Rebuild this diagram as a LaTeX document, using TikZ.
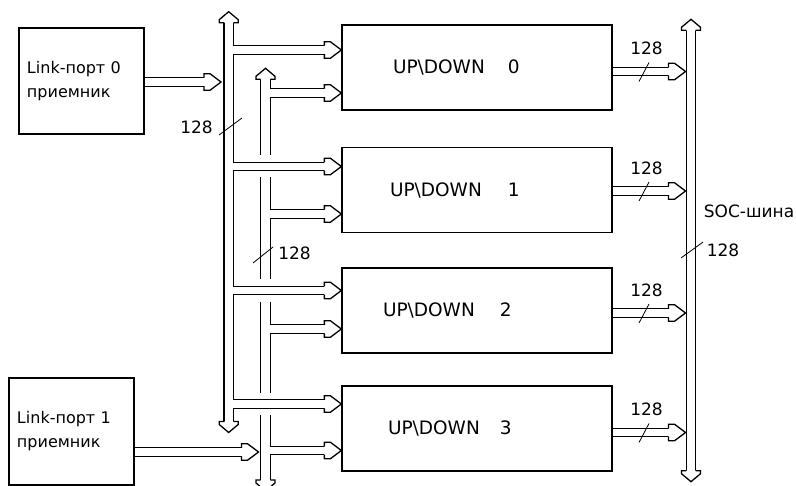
\documentclass[tikz,border=0pt]{standalone}
\usepackage{fontspec}
\setmainfont{DejaVu Sans}
\usetikzlibrary{calc, backgrounds}

\begin{document}
\begin{tikzpicture}[
    x=1bp, y=-1bp,
    font=\fontsize{17bp}{24bp}\selectfont,
    port/.style={draw, line width=1.3bp, minimum width=125bp, minimum height=106bp, text width=109bp, inner xsep=8bp, align=left, font=\fontsize{16bp}{24bp}\selectfont},
    blk/.style={draw, line width=1.3bp, minimum width=270bp, minimum height=85bp, text width=250bp, inner xsep=10bp, align=left, font=\fontsize{18.5bp}{24bp}\selectfont},
    rail/.style={line width=#1},
    tick/.style={line width=0.8bp},
    num/.style={inner sep=0pt},
    head/.pic={
        \fill[white] (-17,-8.3) -- (-17,8.3) -- (-11,8.3) -- (0,0) -- (-11,-8.3) -- cycle;
        \draw[line width=1.3bp] (-17,4.25) -- (-17,8.3) -- (-11,8.3) -- (0,0) -- (-11,-8.3) -- (-17,-8.3) -- (-17,-4.25);
    },
    bushead/.pic={
        \fill[white] (-11,-9.5) -- (-11,9.5) -- (-8,9.5) -- (0,0) -- (-8,-9.5) -- cycle;
        \draw[line width=1.3bp] (-11,4.8) -- (-11,9.5) -- (-8,9.5) -- (0,0) -- (-8,-9.5) -- (-11,-9.5) -- (-11,-4.8);
    }
]
\useasboundingbox (0,0) rectangle (796,486);

% Link ports
\node[port] (lp0) at (81.5,81) {Link-порт 0\\приемник};
\node[port, minimum height=107bp] (lp1) at (71.5,431.5) {Link-порт 1\\приемник};

% UP\DOWN blocks
\node[blk] (ud0) at (477,67.5) {\hspace*{41bp}UP\textbackslash DOWN\hspace{23bp}0};
\node[blk] (ud1) at (477,190) {\hspace*{38bp}UP\textbackslash DOWN\hspace{26bp}1};
\node[blk] (ud2) at (477,310.5) {\hspace*{31bp}UP\textbackslash DOWN\hspace{25bp}2};
\node[blk] (ud3) at (477,428.5) {\hspace*{36bp}UP\textbackslash DOWN\hspace{20bp}3};

% bus ends
\coordinate (Atop) at (228.7,11.7);
\coordinate (Abot) at (228.7,432.5);
\coordinate (Btop) at (265.5,68.3);
\coordinate (Bbot) at (265.5,491);
\coordinate (Stop) at (691,19.3);
\coordinate (Sbot) at (691,481.7);

% rows: bus A branch, bus B branch, output
\foreach \ya/\yb/\yo [count=\i from 0] in {50/93/71.5, 166.5/214/191, 290.5/329/313, 404/450.5/432.5} {
    \coordinate (a\i) at (228.7,\ya);
    \coordinate (g\i) at (265.5,\ya);
    \coordinate (b\i) at (265.5,\yb);
    \coordinate (o\i) at (685.5,\yo);
}
\coordinate (p0) at (221,82);
\coordinate (p1) at (258.5,452);

% double-line buses and arrows
\begin{scope}[on background layer]
    \clip (0,0) rectangle (796,486);
    \foreach \w/\v/\col in {10.9bp/9.8bp/black, 8.3bp/7.2bp/white} {
        \draw[rail=\w, draw=\col, shorten <=9bp, shorten >=9bp] (Atop) -- (Abot);
        \draw[rail=\w, draw=\col, shorten <=9bp, shorten >=9bp] (Stop) -- (Sbot);
        \draw[rail=\w, draw=\col, shorten <=9bp] (Btop) -- ($(g1)+(0,-11)$);
        \draw[rail=\w, draw=\col] ($(g1)+(0,11)$) -- ($(g2)+(0,-11)$);
        \draw[rail=\w, draw=\col] ($(g2)+(0,11)$) -- ($(g3)+(0,-11)$);
        \draw[rail=\w, draw=\col, shorten >=9bp] ($(g3)+(0,11)$) -- (Bbot);
        \foreach \i in {0,...,3} {
            \draw[rail=\v, draw=\col, shorten >=15bp] (a\i) -- (ud\i.west |- a\i);
            \draw[rail=\v, draw=\col, shorten >=15bp] (b\i) -- (ud\i.west |- b\i);
            \draw[rail=\v, draw=\col, shorten >=15bp] (ud\i.east |- o\i) -- (o\i);
        }
        \draw[rail=\v, draw=\col, shorten >=15bp] (lp0.east |- p0) -- (p0);
        \draw[rail=\v, draw=\col, shorten >=15bp] (lp1.east |- p1) -- (p1);
    }
    % arrow heads
    \foreach \i in {0,...,3} {
        \pic at (ud\i.west |- a\i) {head};
        \pic at (ud\i.west |- b\i) {head};
        \pic at (o\i) {head};
    }
    \pic at (p0) {head};
    \pic at (p1) {head};
    \pic[rotate=90] at (Atop) {bushead};
    \pic[rotate=-90] at (Abot) {bushead};
    \pic[rotate=90] at (Btop) {bushead};
    \pic[rotate=-90] at (Bbot) {bushead};
    \pic[rotate=90] at (Stop) {bushead};
    \pic[rotate=-90] at (Sbot) {bushead};
\end{scope}

% width marks
\foreach \i in {0,...,3} {
    \draw[tick] ($(o\i)+(-46.5,10)$) -- ($(o\i)+(-36.5,-9)$);
    \node[num] (w\i) at ($(o\i)+(-39,-23)$) {128};
}
\coordinate (mA) at (230.5,126.5);
\coordinate (mB) at (263,255);
\coordinate (mS) at (692,250);
\draw[tick] ($(mA)+(-11.5,8.5)$) -- ($(mA)+(11.5,-8.5)$);
\draw[tick] ($(mB)+(-10,8)$) -- ($(mB)+(10,-8)$);
\draw[tick] ($(mS)+(-11,8)$) -- ($(mS)+(11,-8)$);
\node[num] (wA) at (196.5,127.5) {128};
\node[num] (wB) at (294.5,253) {128};
\node[num] (wS) at (723,250) {128};
\node[num] (soc) at (749,211) {SOC-шина};

\end{tikzpicture}
\end{document}
